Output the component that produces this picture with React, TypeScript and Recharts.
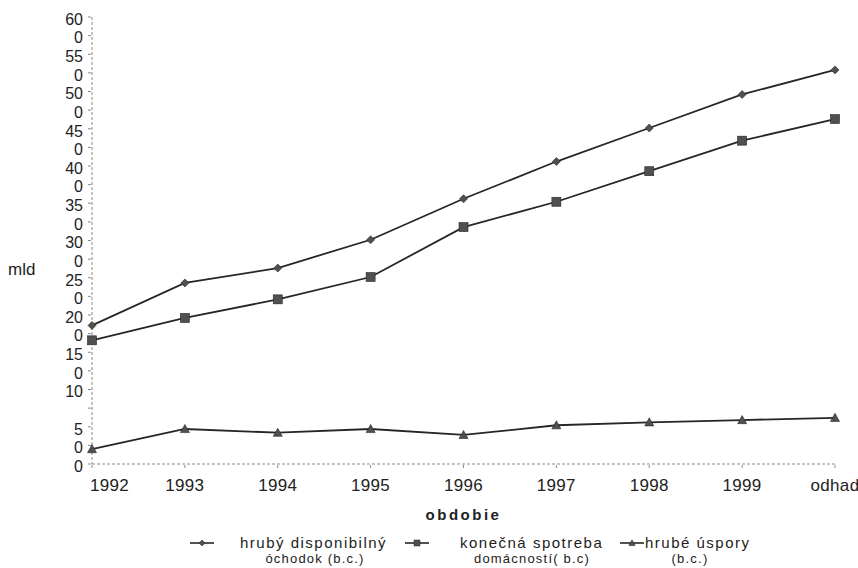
import React from 'react';
import { LineChart, Line, XAxis, YAxis, Legend, Label } from 'recharts';

const categories = ['1992', '1993', '1994', '1995', '1996', '1997', '1998', '1999', 'odhad'];
const disposableIncome = [186, 243, 263, 301, 356, 406, 451, 496, 529];
const finalConsumption = [166, 196, 221, 251, 318, 352, 393, 434, 463];
const grossSavings = [20, 47, 42, 47, 39, 52, 56, 59, 62];

const yTickValues = [0, 25, 50, 75, 100, 125, 150, 175, 200, 225, 250, 275, 300, 325, 350, 375, 400, 425, 450, 475, 500, 525, 550, 575, 600];
const yTickLabels = ['0', '0', '5', '', '10', '0', '15', '0', '20', '0', '25', '0', '30', '0', '35', '0', '40', '0', '45', '0', '50', '0', '55', '0', '60'];

const seriesNames = ['hrubý disponibilný', 'konečná spotreba', 'hrubé úspory'];
const seriesSubNames = ['óchodok (b.c.)', 'domácností( b.c)', '(b.c.)'];
const xAxisTitle = 'obdobie';
const yAxisTitle = 'mld';

const data = categories.map((c, i) => ({
  period: c,
  income: disposableIncome[i],
  consumption: finalConsumption[i],
  savings: grossSavings[i],
}));

const INK = '#262626';
const MARK = '#505050';
const AXIS = '#8a8a8a';
const FONT = '"Liberation Sans", Arial, sans-serif';

const diamondPath = (cx: number, cy: number, r: number) =>
  `M${cx},${cy - r}L${cx + r},${cy}L${cx},${cy + r}L${cx - r},${cy}Z`;
const trianglePath = (cx: number, cy: number, r: number) =>
  `M${cx},${cy - r}L${cx + r},${cy + r * 0.8}L${cx - r},${cy + r * 0.8}Z`;

const DiamondDot = (p: any) => {
  if (p.cx == null || p.cy == null) return <g key={p.key} />;
  return <path key={p.key} d={diamondPath(p.cx, p.cy, 4)} fill={MARK} stroke={INK} strokeWidth={0.6} />;
};
const SquareDot = (p: any) => {
  if (p.cx == null || p.cy == null) return <g key={p.key} />;
  return <rect key={p.key} x={p.cx - 4.5} y={p.cy - 4.5} width={9} height={9} fill={MARK} stroke={INK} strokeWidth={0.6} />;
};
const TriangleDot = (p: any) => {
  if (p.cx == null || p.cy == null) return <g key={p.key} />;
  return <path key={p.key} d={trianglePath(p.cx, p.cy, 4.5)} fill={MARK} stroke={INK} strokeWidth={0.6} />;
};

const XTick = (p: any) => {
  const { x, y, payload, index } = p;
  const first = index === 0;
  return (
    <text
      x={first ? x - 2 : x}
      y={y}
      dy="0.71em"
      textAnchor={first ? 'start' : 'middle'}
      fontFamily={FONT}
      fontSize={17}
      letterSpacing={0.3}
      fill="#222"
    >
      {payload.value}
    </text>
  );
};

const YTick = (p: any) => {
  const { x, y, payload } = p;
  const idx = yTickValues.indexOf(payload.value);
  return (
    <text x={x} y={y + 2} dy="0.36em" textAnchor="end" fontFamily={FONT} fontSize={16} fill="#222">
      {idx >= 0 ? yTickLabels[idx] : ''}
    </text>
  );
};

const LegendContent = () => {
  const row1 = 17;
  const row2 = 32;
  const items = [
    { lx: 190, textX: 240, subX: 315, shape: 'diamond' },
    { lx: 405, textX: 460, subX: 532, shape: 'square' },
    { lx: 620, textX: 645, subX: 690, shape: 'triangle' },
  ];
  return (
    <svg width={858} height={42} style={{ display: 'block', overflow: 'visible' }}>
      {items.map((it, i) => {
        const cx = it.lx + 12;
        return (
          <g key={i}>
            <line x1={it.lx} x2={it.lx + 24} y1={row1} y2={row1} stroke={INK} strokeWidth={1.6} />
            {it.shape === 'diamond' && <path d={diamondPath(cx, row1, 3)} fill={MARK} stroke={INK} strokeWidth={0.5} />}
            {it.shape === 'square' && <rect x={cx - 3} y={row1 - 3} width={6} height={6} fill={MARK} stroke={INK} strokeWidth={0.5} />}
            {it.shape === 'triangle' && <path d={trianglePath(cx, row1, 3.2)} fill={MARK} stroke={INK} strokeWidth={0.5} />}
            <text x={it.textX} y={row1} dy="0.36em" fontFamily={FONT} fontSize={15} letterSpacing={1.5} fill="#222">
              {seriesNames[i]}
            </text>
            <text x={it.subX} y={row2} dy="0.36em" textAnchor="middle" fontFamily={FONT} fontSize={13} letterSpacing={1.2} fill="#222">
              {seriesSubNames[i]}
            </text>
          </g>
        );
      })}
    </svg>
  );
};

export default function App() {
  return (
    <div style={{ width: 858, height: 568, background: '#ffffff', position: 'relative' }}>
      <style>{'body{margin:0;}'}</style>
      <LineChart
        width={858}
        height={568}
        data={data}
        margin={{ top: 17, right: 23, left: 0, bottom: 32 }}
      >
        <XAxis
          dataKey="period"
          type="category"
          padding={{ left: 0, right: 0 }}
          height={30}
          stroke={AXIS}
          strokeDasharray="3 2"
          tickSize={4}
          tickMargin={11}
          tick={<XTick />}
          interval={0}
        >
          <Label
            content={(p: any) => {
              const vb = p.viewBox || {};
              return (
                <text
                  x={vb.x + vb.width / 2}
                  y={vb.y + 51}
                  dy="0.36em"
                  textAnchor="middle"
                  fontFamily={FONT}
                  fontSize={15}
                  fontWeight="bold"
                  letterSpacing={2.5}
                  fill="#222"
                >
                  {xAxisTitle}
                </text>
              );
            }}
          />
        </XAxis>
        <YAxis
          type="number"
          domain={[0, 600]}
          ticks={yTickValues}
          interval={0}
          width={92}
          stroke={AXIS}
          strokeDasharray="3 2"
          tickSize={4}
          tickMargin={5}
          tick={<YTick />}
        >
          <Label
            content={(p: any) => {
              const vb = p.viewBox || {};
              return (
                <text x={vb.x + 8} y={vb.y + vb.height / 2 + 28} dy="0.36em" fontFamily={FONT} fontSize={17} fill="#222">
                  {yAxisTitle}
                </text>
              );
            }}
          />
        </YAxis>
        <Legend
          verticalAlign="bottom"
          align="left"
          width={858}
          height={42}
          wrapperStyle={{ top: 526, left: 0, bottom: 'auto', margin: 0, padding: 0 }}
          content={<LegendContent />}
        />
        <Line dataKey="income" name={seriesNames[0]} stroke={INK} strokeWidth={1.8} dot={<DiamondDot />} isAnimationActive={false} />
        <Line dataKey="consumption" name={seriesNames[1]} stroke={INK} strokeWidth={1.8} dot={<SquareDot />} isAnimationActive={false} />
        <Line dataKey="savings" name={seriesNames[2]} stroke={INK} strokeWidth={1.8} dot={<TriangleDot />} isAnimationActive={false} />
      </LineChart>
    </div>
  );
}
